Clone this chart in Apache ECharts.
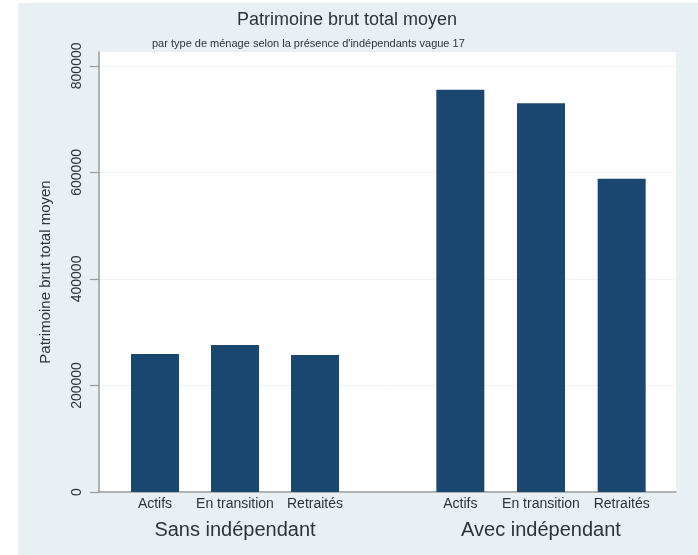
<!DOCTYPE html>
<html><head><meta charset="utf-8">
<script src="https://cdn.jsdelivr.net/npm/echarts@6/dist/echarts.min.js"></script>
<style>html,body{margin:0;padding:0;background:#fff}#c{width:698px;height:555px}</style>
</head><body><div id="c"></div>
<script>
const groups = ['Sans indépendant', 'Avec indépendant'];
const householdTypes = ['Actifs', 'En transition', 'Retraités'];
const sansValues = [259000, 276000, 257000];
const avecValues = [755000, 730000, 588000];
const yTicks = [0, 200000, 400000, 600000, 800000];
const titleText = 'Patrimoine brut total moyen';
const subtitleText = "par type de ménage selon la présence d'indépendants vague 17";
const yAxisTitle = 'Patrimoine brut total moyen';
const Y_MAX = 826000;

const FONT = "'Liberation Sans', Arial, sans-serif";
const TXT = '#2f3338';
const BAR = '#1a476f';
const AXIS = '#9a9a9a';

const chart = echarts.init(document.getElementById('c'), null, {renderer: 'canvas'});
const hiddenY = (gi) => ({gridIndex: gi, type: 'value', min: 0, max: Y_MAX, show: false});
const groupX = (gi, name) => ({
  gridIndex: gi, type: 'category', data: householdTypes,
  axisLine: {show: false}, axisTick: {show: false}, splitLine: {show: false},
  axisLabel: {interval: 0, fontSize: 14, fontFamily: FONT, color: TXT, margin: 5, hideOverlap: false},
  name: name, nameLocation: 'middle', nameGap: 28,
  nameTextStyle: {fontSize: 20, fontFamily: FONT, color: TXT}
});

chart.setOption({
  animation: false,
  backgroundColor: '#fff',
  graphic: [{type: 'rect', z: -100, silent: true, shape: {x: 18, y: 3, width: 680, height: 552}, style: {fill: '#e9f0f3'}}],
  title: [
    {text: titleText, left: 232, top: 6, textStyle: {fontSize: 18, fontWeight: 'normal', fontFamily: FONT, color: TXT}},
    {text: subtitleText, left: 147, top: 33, textStyle: {fontSize: 11, fontWeight: 'normal', fontFamily: FONT, color: TXT}}
  ],
  grid: [
    {left: 99, top: 52, width: 577, height: 440, show: true, backgroundColor: '#ffffff', borderWidth: 0},
    {left: 115, top: 52, width: 240, height: 440},
    {left: 420, top: 52, width: 242, height: 440}
  ],
  xAxis: [
    {gridIndex: 0, type: 'value', min: 0, max: 1, axisLine: {show: true, lineStyle: {color: AXIS, width: 1.5}},
     axisTick: {show: false}, axisLabel: {show: false}, splitLine: {show: false}},
    groupX(1, groups[0]),
    groupX(2, groups[1])
  ],
  yAxis: [
    {gridIndex: 0, type: 'value', min: 0, max: Y_MAX, interval: 200000,
     axisLine: {show: true, lineStyle: {color: AXIS, width: 1.5}},
     axisTick: {show: true, length: 9, lineStyle: {color: AXIS, width: 1.2}, customValues: yTicks},
     axisLabel: {rotate: 90, fontSize: 14, fontFamily: FONT, color: TXT, margin: 15, customValues: yTicks,
                 formatter: (v) => String(v)},
     splitLine: {show: true, lineStyle: {color: '#eef3f5', width: 1}},
     name: yAxisTitle, nameLocation: 'middle', nameGap: 46, nameRotate: 90,
     nameTextStyle: {fontSize: 15, fontFamily: FONT, color: TXT}},
    hiddenY(1), hiddenY(2)
  ],
  series: [
    {type: 'bar', xAxisIndex: 1, yAxisIndex: 1, data: sansValues, barWidth: 48, itemStyle: {color: BAR}},
    {type: 'bar', xAxisIndex: 2, yAxisIndex: 2, data: avecValues, barWidth: 48, itemStyle: {color: BAR}}
  ]
});
</script></body></html>
